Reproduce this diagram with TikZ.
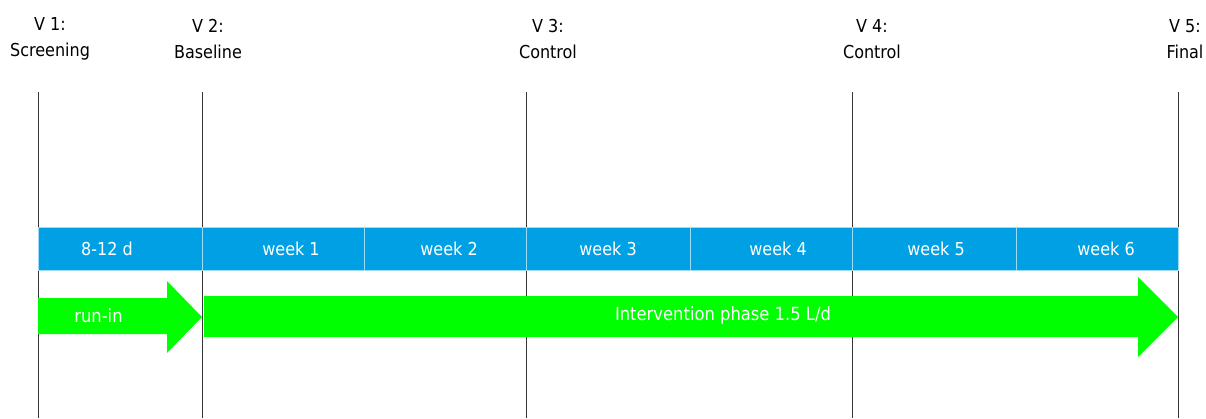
\documentclass[tikz,border=0pt]{standalone}
\usepackage{fontspec}
\setmainfont{DejaVu Sans Condensed}
\definecolor{barblue}{RGB}{0,161,228}
\definecolor{barline}{RGB}{160,218,245}
\definecolor{phasegreen}{RGB}{0,255,0}
\definecolor{visitgray}{RGB}{55,55,55}

\begin{document}
\begin{tikzpicture}[
    x=1pt, y=-1pt,
    visit/.style={
        align=center,
        inner sep=0pt,
        font=\fontsize{17.8}{26}\selectfont
    },
    visitline/.style={draw=visitgray, line width=1pt},
    cell/.style={
        rectangle,
        minimum width=#1,
        minimum height=43pt,
        inner sep=0pt,
        fill=barblue,
        draw=barline,
        line width=0.8pt
    },
    celltext/.style={text=white, inner sep=0pt, font=\fontsize{17.8}{20}\selectfont},
    phase/.style={fill=phasegreen},
    phaselabel/.style={text=white, inner sep=0pt, font=\fontsize{18.2}{20}\selectfont}
]
\useasboundingbox (0,0) rectangle (1206,418);

% visits
\node[visit] (v1) at (50,39) {V 1:\\Screening};
\node[visit] (v2) at (208,39) {V 2:\\Baseline};
\node[visit] (v3) at (548,39) {V 3:\\Control};
\node[visit] (v4) at (872,39) {V 4:\\Control};
\node[visit] (v5) at (1185,39) {V 5:\\Final};

\foreach \x in {38,202,526,852,1178}
    \draw[visitline] (\x,92) -- (\x,418);

% time bar
\node[cell=164pt] (runbar) at (120,248.5) {};
\node[celltext] (runtxt) at (107,249) {8-12 d};
\foreach \cx/\w/\tx/\lab [count=\i] in {283/162/291/week 1, 445/162/449/week 2,
        608/164/608/week 3, 771/162/778/week 4, 934/164/936/week 5, 1097/162/1106/week 6}{
    \node[cell=\w pt] (week\i) at (\cx,248.5) {};
    \node[celltext] (weektxt\i) at (\tx,249) {\lab};
}

% phases
\fill[phase] (38,298) -- (167,298) -- (167,281) -- (202,317) -- (167,353)
    -- (167,334) -- (38,334) -- cycle;
\node[phaselabel] (runin) at (98.5,316) {run-in};

\fill[phase] (204,296) -- (1138,296) -- (1138,277) -- (1178,317) -- (1138,357)
    -- (1138,337) -- (204,337) -- cycle;
\node[phaselabel] (interv) at (723,315) {Intervention phase 1.5 L/d};

\end{tikzpicture}
\end{document}
